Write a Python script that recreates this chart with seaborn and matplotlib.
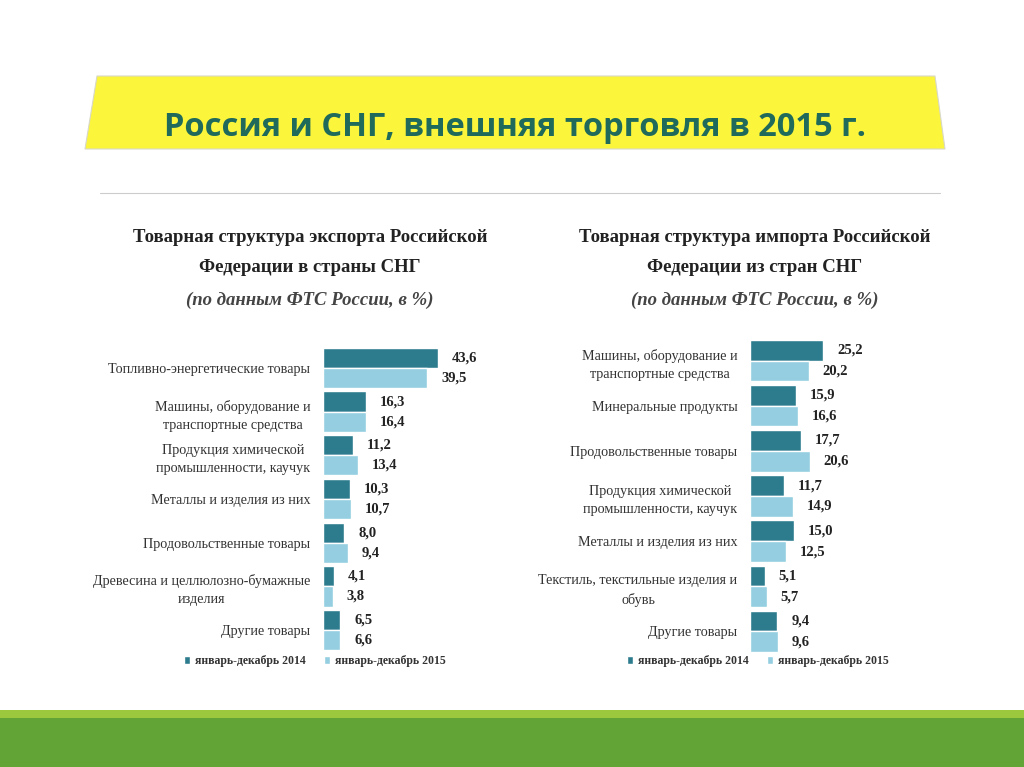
import numpy as np
import pandas as pd
import seaborn as sns
import matplotlib.pyplot as plt
from matplotlib.patches import Polygon, Rectangle

# Данные (в %)
exp_cats = ['Топливно-энергетические товары',
            'Машины, оборудование и\nтранспортные средства',
            'Продукция химической\nпромышленности, каучук',
            'Металлы и изделия из них',
            'Продовольственные товары',
            'Древесина и целлюлозно-бумажные\nизделия',
            'Другие товары']
exp_2014 = [43.6, 16.3, 11.2, 10.3, 8.0, 4.1, 6.5]
exp_2015 = [39.5, 16.4, 13.4, 10.7, 9.4, 3.8, 6.6]

imp_cats = ['Машины, оборудование и\nтранспортные средства',
            'Минеральные продукты',
            'Продовольственные товары',
            'Продукция химической\nпромышленности, каучук',
            'Металлы и изделия из них',
            'Текстиль, текстильные изделия и\nобувь',
            'Другие товары']
imp_2014 = [25.2, 15.9, 17.7, 11.7, 15.0, 5.1, 9.4]
imp_2015 = [20.2, 16.6, 20.6, 14.9, 12.5, 5.7, 9.6]

periods = ['январь-декабрь 2014', 'январь-декабрь 2015']

W, H = 1024, 767
sns.set_theme(style='white')
plt.rcParams['font.family'] = ['Liberation Serif', 'DejaVu Serif']

fig = plt.figure(figsize=(W / 100, H / 100), dpi=100)
fig.patch.set_facecolor('white')

def fx(x):
    return x / W

def fy(y):
    return 1 - y / H

# Жёлтая плашка заголовка
banner = Polygon([(fx(97), fy(76)), (fx(935), fy(76)), (fx(945), fy(149)), (fx(85), fy(149))],
                 closed=True, transform=fig.transFigure, facecolor='#FBF53B',
                 edgecolor='#D8D8C8', linewidth=0.8)
fig.patches.append(banner)
fig.text(fx(515), fy(127), 'Россия и СНГ, внешняя торговля в 2015 г.', ha='center', va='center',
         fontsize=23.5, fontweight='bold', color='#1F6A5B', family=['Open Sans', 'DejaVu Sans'])

# Серая линия
fig.add_artist(plt.Line2D([fx(100), fx(940)], [fy(193), fy(193)], transform=fig.transFigure,
                          color='#CCCCCC', linewidth=0.8))

# Зелёные полосы внизу
fig.patches.append(Rectangle((0, 0), 1, 1 - 718 / H, transform=fig.transFigure,
                             facecolor='#63A436', edgecolor='none'))
fig.patches.append(Rectangle((0, 1 - 718 / H), 1, 8 / H, transform=fig.transFigure,
                             facecolor='#9BC83C', edgecolor='none'))

colors = ['#2C7C8E', '#94CEE0']

def fmt(v):
    return f'{v:.1f}'.replace('.', ',')

def panel(cats, v14, v15, box, xmax, title_lines, title_x, legend_x):
    x0, top, w, h = box
    ax = fig.add_axes([fx(x0), fy(top + h), fx(w), h / H])
    df = pd.DataFrame({'cat': cats * 2,
                       'val': v14 + v15,
                       'period': [periods[0]] * len(cats) + [periods[1]] * len(cats)})
    sns.barplot(data=df, y='cat', x='val', hue='period', orient='h', palette=colors,
                width=0.92, ax=ax, saturation=1, legend=True)
    ax.set_xlim(0, xmax)
    ax.set_ylim(len(cats) - 0.5, -0.5)
    ax.set_xlabel('')
    ax.set_ylabel('')
    ax.set_xticks([])
    for s in ax.spines.values():
        s.set_visible(False)
    ax.set_facecolor('none')
    ax.tick_params(axis='y', length=0, pad=9)
    for lbl in ax.get_yticklabels():
        lbl.set_fontsize(10.2)
        lbl.set_color('#333333')
        lbl.set_multialignment('center')
        lbl.set_linespacing(1.5)
    for cont in ax.containers:
        ax.bar_label(cont, labels=[fmt(v) for v in cont.datavalues], padding=10,
                     fontsize=10.5, fontweight='bold', color='#222222')
    sns.move_legend(ax, 'center', bbox_to_anchor=(fx(legend_x), fy(661)),
                    bbox_transform=fig.transFigure, ncol=2, title=None, frameon=False,
                    fontsize=8.5, handlelength=0.5, handleheight=0.6, handletextpad=0.4,
                    columnspacing=1.6)
    for t in ax.get_legend().get_texts():
        t.set_fontweight('bold')
        t.set_color('#333333')
    ys = [237, 268, 300]
    for i, (line, y) in enumerate(zip(title_lines, ys)):
        fig.text(fx(title_x), fy(y), line, ha='center', va='center', fontsize=13.5,
                 fontweight='bold', fontstyle='italic' if i == 2 else 'normal',
                 color='#444444' if i == 2 else '#222222')
    return ax

panel(exp_cats, exp_2014, exp_2015, (323, 346, 132, 306), 50,
      ['Товарная структура экспорта Российской', 'Федерации в страны СНГ',
       '(по данным ФТС России, в %)'], 310, 315)
panel(imp_cats, imp_2014, imp_2015, (750, 338, 87, 316), 30,
      ['Товарная структура импорта Российской', 'Федерации из стран СНГ',
       '(по данным ФТС России, в %)'], 755, 758)

fig.savefig('out.png', dpi=100)
